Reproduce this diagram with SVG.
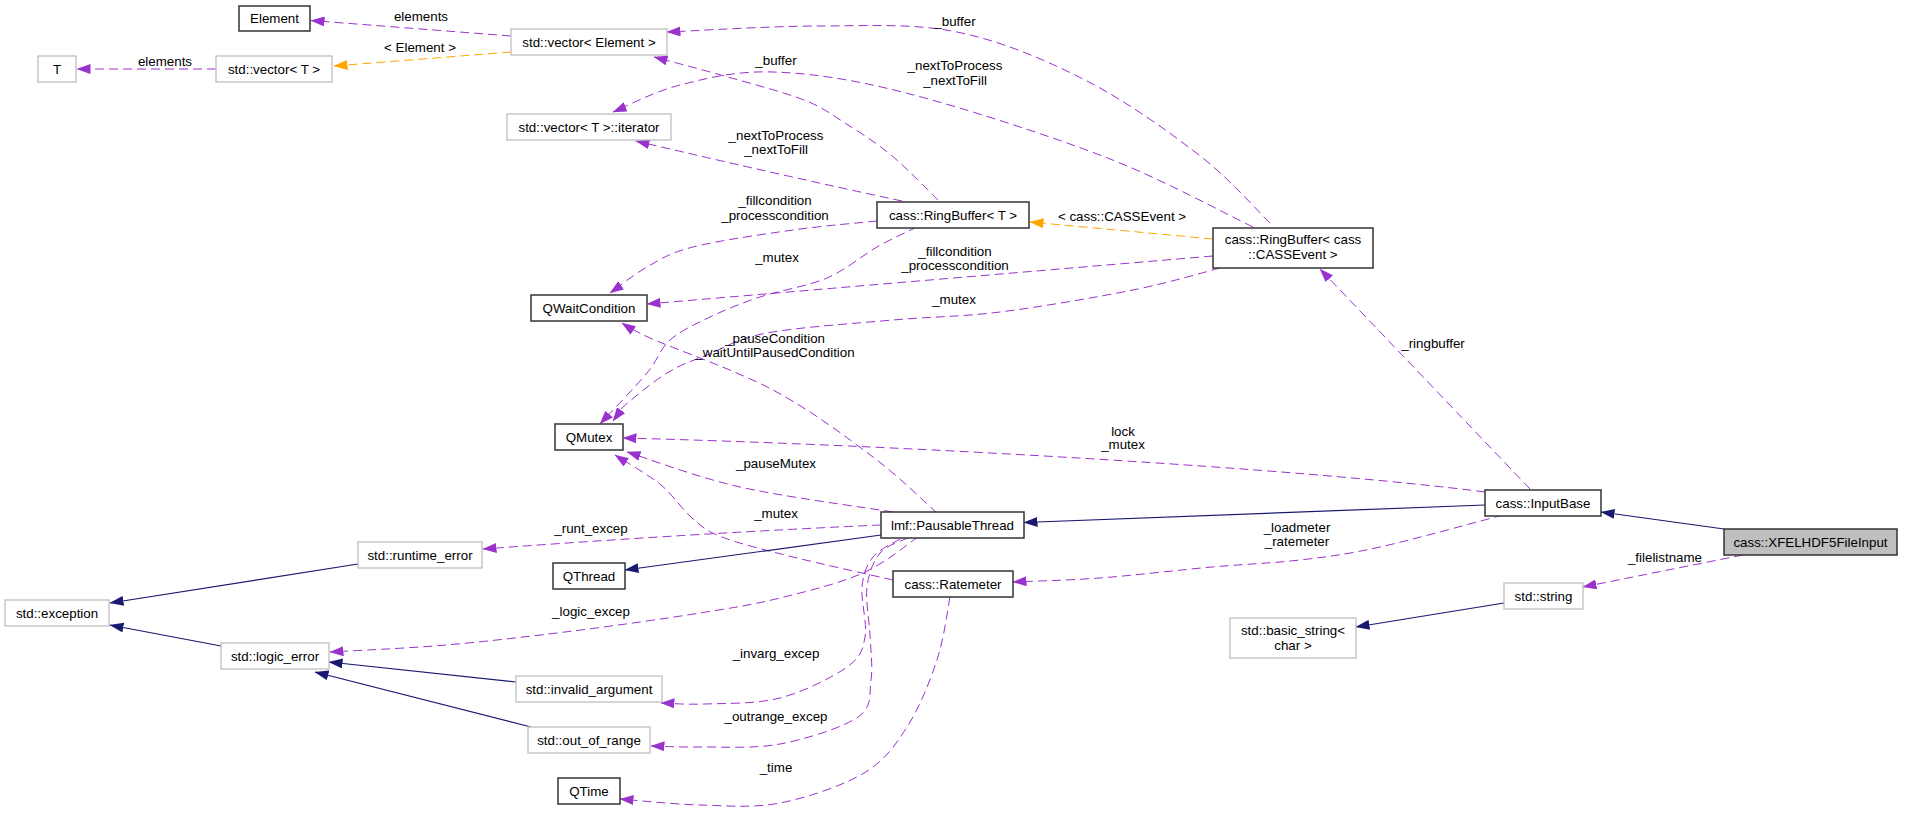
<svg xmlns="http://www.w3.org/2000/svg" width="1912" height="814" viewBox="0 0 1912 814">
<style>
text{font-family:"Liberation Sans",Arial,sans-serif;font-size:13.33px;fill:#000;text-anchor:middle}
.nb{fill:#fff;stroke:#333;stroke-width:1.5}
.ng{fill:#fff;stroke:#bfbfbf;stroke-width:1.3}
.nx{fill:#bfbfbf;stroke:#333;stroke-width:1.5}
.ep{fill:none;stroke:#9a32cd;stroke-width:1;stroke-dasharray:9,5;marker-end:url(#ap)}
.eo{fill:none;stroke:#ffa500;stroke-width:1;stroke-dasharray:9,5;marker-end:url(#ao)}
.en{fill:none;stroke:#191970;stroke-width:1.2;marker-end:url(#an)}
</style>
<defs>
<marker id="ap" markerUnits="userSpaceOnUse" viewBox="0 0 14 10" markerWidth="14" markerHeight="10" refX="13.5" refY="5" orient="auto"><path d="M0,0 L14,5 L0,10 z" fill="#9a32cd"/></marker>
<marker id="ao" markerUnits="userSpaceOnUse" viewBox="0 0 14 10" markerWidth="14" markerHeight="10" refX="13.5" refY="5" orient="auto"><path d="M0,0 L14,5 L0,10 z" fill="#ffa500"/></marker>
<marker id="an" markerUnits="userSpaceOnUse" viewBox="0 0 14 10" markerWidth="14" markerHeight="10" refX="13.5" refY="5" orient="auto"><path d="M0,0 L14,5 L0,10 z" fill="#191970"/></marker>
</defs>
<rect width="1912" height="814" fill="#fff"/>

<g id="connectors">
<g id="e_vecel_element"><path class="ep" d="M511,36 L311,20.5"/><text x="421" y="21">elements</text></g>
<g id="e_vecel_vecT"><path class="eo" d="M511,52 L334,66"/><text x="420" y="52">&lt; Element &gt;</text></g>
<g id="e_vecT_T"><path class="ep" d="M216,69 L77,69"/><text x="165" y="66">elements</text></g>
<g id="e_rbC_vecel"><path class="ep" d="M1270,223 C1258.2,211.7 1229.8,178.8 1199,155 C1168.2,131.2 1125.3,100.5 1085,80 C1044.7,59.5 1001.3,41 957,32 C912.7,23 867.3,26 819,26 C770.7,26 692.3,31 667,32"/><text x="955" y="26">_buffer</text></g>
<g id="e_rbC_iter"><path class="ep" d="M1253,227 C1228.3,215.3 1162.8,179.3 1105,157 C1047.2,134.7 961.3,107.2 906,93 C850.7,78.8 810.7,73.3 773,72 C735.3,70.7 706.7,78.3 680,85 C653.3,91.7 624.2,107.5 613,112"/><text x="955" y="70">_nextToProcess</text><text x="955" y="85">_nextToFill</text></g>
<g id="e_rbT_vecel"><path class="ep" d="M938,200 C930.2,192.5 906.5,167.8 891,155 C875.5,142.2 859.5,132.2 845,123 C830.5,113.8 823.5,107.7 804,100 C784.5,92.3 753,84.2 728,77 C703,69.8 666.3,60.3 654,57"/><text x="776" y="65">_buffer</text></g>
<g id="e_rbT_iter"><path class="ep" d="M902,201 Q780,175 636,141"/><text x="776" y="140">_nextToProcess</text><text x="776" y="154">_nextToFill</text></g>
<g id="e_rbT_qwait"><path class="ep" d="M877,221 C863,222.5 823.7,225.7 793,230 C762.3,234.3 717.3,240.8 693,247 C668.7,253.2 660.8,259.3 647,267 C633.2,274.7 616.2,288.7 610,293"/><text x="775" y="205">_fillcondition</text><text x="775" y="220">_processcondition</text></g>
<g id="e_rbT_qmutex"><path class="ep" d="M917,227 C910.3,230.3 892,238.5 877,247 C862,255.5 846.5,269.7 827,278 C807.5,286.3 779.5,290.5 760,297 C740.5,303.5 725,309.8 710,317 C695,324.2 680.5,330.7 670,340 C659.5,349.3 658.7,359 647,373 C635.3,387 607.8,415.5 600,424"/><text x="777" y="262">_mutex</text></g>
<g id="e_rbC_qwait"><path class="ep" d="M1213,256 L647,304"/><text x="955" y="256">_fillcondition</text><text x="955" y="270">_processcondition</text></g>
<g id="e_rbC_qmutex"><path class="ep" d="M1220,268 C1205.5,271.7 1169.7,282.7 1133,290 C1096.3,297.3 1040,307 1000,312 C960,317 931.8,316.5 893,320 C854.2,323.5 798,327.2 767,333 C736,338.8 723.7,348.3 707,355 C690.3,361.7 681,364.3 667,373 C653,381.7 632,399 623,407 C614,415 614.7,418.7 613,421"/><text x="954" y="304">_mutex</text></g>
<g id="e_rbC_rbT"><path class="eo" d="M1213,239 L1030,222"/><text x="1122" y="221">&lt; cass::CASSEvent &gt;</text></g>
<g id="e_input_rbC"><path class="ep" d="M1530,489 L1320,269"/><text x="1433" y="348">_ringbuffer</text></g>
<g id="e_input_qmutex"><path class="ep" d="M1485,492 C1300,468 900,445 623,438"/><text x="1123" y="436">lock</text><text x="1123" y="449">_mutex</text></g>
<g id="e_input_pausable"><path class="en" d="M1485,505 L1024,522.5"/></g>
<g id="e_input_ratemeter"><path class="ep" d="M1503,515 C1482.5,520.3 1413.8,539.5 1380,547 C1346.2,554.5 1328,556.7 1300,560 C1272,563.3 1245.3,564 1212,567 C1178.7,570 1133.2,575.5 1100,578 C1066.8,580.5 1027.5,581.3 1013,582"/><text x="1297" y="532">_loadmeter</text><text x="1297" y="546">_ratemeter</text></g>
<g id="e_xfel_input"><path class="en" d="M1724,529 L1601,512"/></g>
<g id="e_xfel_string"><path class="ep" d="M1743,555 L1583,587"/><text x="1665" y="562">_filelistname</text></g>
<g id="e_string_basic"><path class="en" d="M1504,603 L1356,627"/></g>
<g id="e_pausable_qwait"><path class="ep" d="M937,513 C926.3,503.7 900.3,477.5 873,457 C845.7,436.5 810.2,409.8 773,390 C735.8,370.2 675.2,349.2 650,338 C636,331.5 628,327 622,323"/><text x="775" y="343">_pauseCondition</text><text x="775" y="357">_waitUntilPausedCondition</text></g>
<g id="e_pausable_qmutex"><path class="ep" d="M893,512 C867.5,507.8 784.3,497 740,487 C695.7,477 645.8,457.8 627,452"/><text x="776" y="468">_pauseMutex</text></g>
<g id="e_ratemeter_qmutex"><path class="ep" d="M893,580 C875.7,576 817.5,563.2 789,556 C760.5,548.8 738.2,543.3 722,537 C705.8,530.7 702.2,526.7 692,518 C681.8,509.3 673.8,495.5 661,485 C648.2,474.5 622.7,460 615,455"/><text x="776" y="518">_mutex</text></g>
<g id="e_pausable_qthread"><path class="en" d="M881,535 L625,570"/></g>
<g id="e_pausable_runtime"><path class="ep" d="M881,525 Q700,533 483,549"/><text x="591" y="533">_runt_excep</text></g>
<g id="e_pausable_logic"><path class="ep" d="M918,537 C908.8,543 886,562.8 863,573 C840,583.2 807.2,591.3 780,598 C752.8,604.7 734.5,607.5 700,613 C665.5,618.5 615.3,625.7 573,631 C530.7,636.3 486.5,641.5 446,645 C405.5,648.5 349.3,650.8 330,652"/><text x="591" y="616">_logic_excep</text></g>
<g id="e_pausable_invarg"><path class="ep" d="M900,539 C895.5,542 879.3,549 873,557 C866.7,565 863.3,573.7 862,587 C860.7,600.3 867.5,623.7 865,637 C862.5,650.3 861.2,656.8 847,667 C832.8,677.2 803.7,691.8 780,698 C756.3,704.2 724.8,703.2 705,704 C685.2,704.8 668.3,703.2 661,703"/><text x="776" y="658">_invarg_excep</text></g>
<g id="e_pausable_outrange"><path class="ep" d="M908,538 C903.3,540.5 886.8,544.8 880,553 C873.2,561.2 868.7,573.3 867,587 C865.3,600.7 869.3,619.5 870,635 C870.7,650.5 873,666.3 871,680 C869,693.7 873.2,706.3 858,717 C842.8,727.7 806.3,739 780,744 C753.7,749 721.5,746.7 700,747 C678.5,747.3 659.2,746.2 651,746"/><text x="776" y="721">_outrange_excep</text></g>
<g id="e_ratemeter_qtime"><path class="ep" d="M950,597 C947.8,607.5 944.2,638.3 937,660 C929.8,681.7 919.2,708.2 907,727 C894.8,745.8 885.2,760.3 864,773 C842.8,785.7 807.3,797.7 780,803 C752.7,808.3 726.7,805.7 700,805 C673.3,804.3 633.3,800 620,799"/><text x="776" y="772">_time</text></g>
<g id="e_runtime_exception"><path class="en" d="M358,564 L110,603"/></g>
<g id="e_logic_exception"><path class="en" d="M221,646 L110,625"/></g>
<g id="e_invarg_logic"><path class="en" d="M516,682 L329,662"/></g>
<g id="e_outrange_logic"><path class="en" d="M531,727 L315,672"/></g>
</g>

<g id="n_element"><rect class="nb" x="239" y="6" width="71" height="25"/><text x="274.5" y="23">Element</text></g>
<g id="n_vec_element"><rect class="ng" x="511" y="29" width="156" height="26"/><text x="589" y="46.5">std::vector&lt; Element &gt;</text></g>
<g id="n_T"><rect class="ng" x="38" y="56" width="38" height="26"/><text x="57" y="73.5">T</text></g>
<g id="n_vec_T"><rect class="ng" x="216" y="56" width="116" height="26"/><text x="274" y="73.5">std::vector&lt; T &gt;</text></g>
<g id="n_iter"><rect class="ng" x="507" y="114" width="164" height="26"/><text x="589" y="131.5">std::vector&lt; T &gt;::iterator</text></g>
<g id="n_rbT"><rect class="nb" x="877" y="202" width="152" height="26"/><text x="953" y="219.5">cass::RingBuffer&lt; T &gt;</text></g>
<g id="n_rbC"><rect class="nb" x="1213" y="228" width="160" height="40"/><text x="1293" y="244">cass::RingBuffer&lt; cass</text><text x="1293" y="259">::CASSEvent &gt;</text></g>
<g id="n_qwait"><rect class="nb" x="531" y="295" width="116" height="26"/><text x="589" y="312.5">QWaitCondition</text></g>
<g id="n_qmutex"><rect class="nb" x="555" y="424" width="68" height="26"/><text x="589" y="441.5">QMutex</text></g>
<g id="n_runtime"><rect class="ng" x="358" y="542" width="124" height="26"/><text x="420" y="559.5">std::runtime_error</text></g>
<g id="n_qthread"><rect class="nb" x="553" y="563" width="72" height="26"/><text x="589" y="580.5">QThread</text></g>
<g id="n_exception"><rect class="ng" x="5" y="600" width="104" height="26"/><text x="57" y="617.5">std::exception</text></g>
<g id="n_logic"><rect class="ng" x="221" y="643" width="108" height="26"/><text x="275" y="660.5">std::logic_error</text></g>
<g id="n_invarg"><rect class="ng" x="516" y="676" width="146" height="26"/><text x="589" y="693.5">std::invalid_argument</text></g>
<g id="n_outrange"><rect class="ng" x="528" y="727" width="122" height="26"/><text x="589" y="744.5">std::out_of_range</text></g>
<g id="n_qtime"><rect class="nb" x="558" y="778" width="62" height="26"/><text x="589" y="795.5">QTime</text></g>
<g id="n_pausable"><rect class="nb" x="881" y="512" width="143" height="26"/><text x="952.5" y="529.5">lmf::PausableThread</text></g>
<g id="n_ratemeter"><rect class="nb" x="893" y="571" width="120" height="26"/><text x="953" y="588.5">cass::Ratemeter</text></g>
<g id="n_basicstring"><rect class="ng" x="1230" y="618" width="126" height="40"/><text x="1293" y="635">std::basic_string&lt;</text><text x="1293" y="650">char &gt;</text></g>
<g id="n_inputbase"><rect class="nb" x="1485" y="490" width="116" height="26"/><text x="1543" y="507.5">cass::InputBase</text></g>
<g id="n_xfel"><rect class="nx" x="1724" y="529" width="173" height="26"/><text x="1810.5" y="546.5">cass::XFELHDF5FileInput</text></g>
<g id="n_string"><rect class="ng" x="1504" y="583" width="79" height="26"/><text x="1543.5" y="600.5">std::string</text></g>
</svg>
